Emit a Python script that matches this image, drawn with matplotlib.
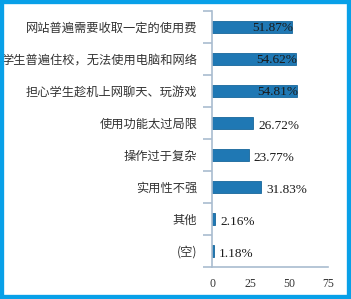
import numpy as np
import matplotlib.pyplot as plt
from matplotlib.patches import Rectangle

# survey answers, top to bottom
categories = ["网站普遍需要收取一定的使用费",
              "学生普遍住校，无法使用电脑和网络",
              "担心学生趁机上网聊天、玩游戏",
              "使用功能太过局限",
              "操作过于复杂",
              "实用性不强",
              "其他",
              "(空)"]
values = [51.87, 54.62, 54.81, 26.72, 23.77, 31.83, 2.16, 1.18]
xticks = [0, 25, 50, 75]

bar_color = "#1f78b4"
axis_color = "#a9bccf"
text_color = "#333333"

fig = plt.figure(figsize=(3.51, 2.99), dpi=100)
ax = fig.add_axes([212 / 351, 1 - 267 / 299, 116 / 351, 256 / 299])

y = np.arange(len(categories))
ax.barh(y, values, height=0.37, color=bar_color, edgecolor="#17679c", linewidth=0.6)

ax.set_xlim(0, 75)
ax.set_ylim(len(categories) - 0.5, -0.5)

# category labels, separators between categories
ax.set_yticks(y)
ax.set_yticklabels(categories, fontfamily=["Noto Sans CJK SC", "DejaVu Sans"],
                   fontsize=8.8, color=text_color)
ax.tick_params(axis="y", which="major", length=0, pad=10.5)
ax.set_yticks(np.arange(len(categories) + 1) - 0.5, minor=True)
ax.tick_params(axis="y", which="minor", length=6.5, width=1.2, color=axis_color)

ax.set_xticks(xticks)
ax.set_xticklabels([str(t) for t in xticks], fontfamily="Liberation Serif",
                   fontsize=8.5, color=text_color)
ax.tick_params(axis="x", length=0, pad=8)

for side in ["top", "right"]:
    ax.spines[side].set_visible(False)
for side in ["left", "bottom"]:
    ax.spines[side].set_color(axis_color)
    ax.spines[side].set_linewidth(1.2)

# value labels: inside the long bars, outside the short ones
for i, v in enumerate(values):
    label = "%.2f%%" % v
    if v > 50:
        ax.annotate(label, (v, i), xytext=(1, -1), textcoords="offset pixels",
                    ha="right", va="center", fontfamily="Liberation Serif",
                    fontsize=9.5, color="#1a1a1a")
    else:
        ax.annotate(label, (v, i), xytext=(5, -3), textcoords="offset pixels",
                    ha="left", va="center", fontfamily="Liberation Serif",
                    fontsize=9.5, color="#1a1a1a")

# blue frame around the picture
fig.add_artist(Rectangle((0, 0), 1, 1, transform=fig.transFigure, fill=False,
                         edgecolor="#08a0e8", linewidth=6))

fig.savefig("out.png", dpi=100)
